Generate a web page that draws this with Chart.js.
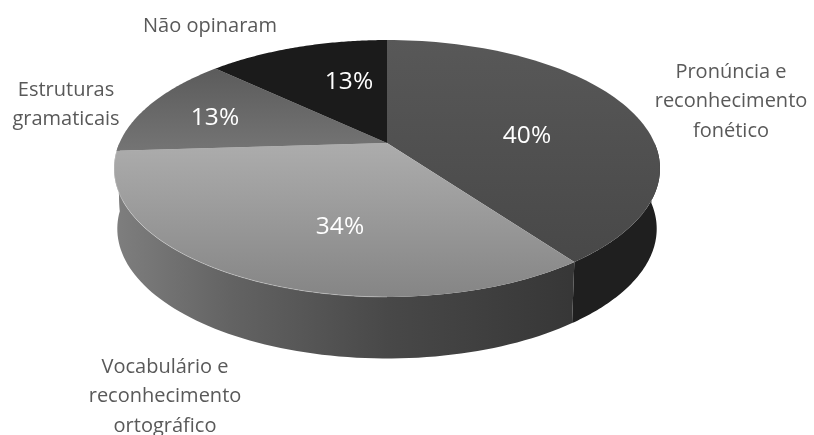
<!DOCTYPE html>
<html lang="pt">
<head>
<meta charset="utf-8">
<title>Dificuldades</title>
<script src="https://cdn.jsdelivr.net/npm/chart.js@4"></script>
<style>
  html, body { margin: 0; padding: 0; background: #fff; }
  canvas { display: block; }
</style>
</head>
<body>
<canvas id="pieChart" width="814" height="435"></canvas>
<script>
// Slices, clockwise from the top
const categories = [
  ['Pronúncia e', 'reconhecimento', 'fonético'],
  ['Vocabulário e', 'reconhecimento', 'ortográfico'],
  ['Estruturas', 'gramaticais'],
  ['Não opinaram']
];
const shares = [40, 34, 13, 13];

// Top face shading per slice [upper colour, lower colour, gradient from y, to y]
const topShades = [
  ['#585858', '#464646', 40, 290],
  ['#acacac', '#858585', 145, 297],
  ['#5c5c5c', '#767676', 70, 157],
  ['#1b1b1b', '#1b1b1b', 40, 143]
];
const sliceColors = ['#505050', '#999999', '#6a6a6a', '#1b1b1b'];

// Tilted disc: the centre sits above the middle of the ellipse because of perspective
const TILT = 0.1984;
const X_STRETCH = 1.871;
const Y_STRETCH = 0.863;
const WALL_DEPTH = 60;

function project(arc, angle, isBottom) {
  const d = 1 - TILT * Math.sin(angle);
  const rx = arc.outerRadius * X_STRETCH * (isBottom ? 0.988 : 1);
  const ry = arc.outerRadius * Y_STRETCH * (isBottom ? 1.01 : 1);
  return {
    x: arc.x + rx * Math.cos(angle) / d,
    y: arc.y + ry * Math.sin(angle) / d + (isBottom ? WALL_DEPTH : 0)
  };
}

function traceRim(ctx, arc, from, to, isBottom) {
  const steps = 80;
  for (let i = 0; i <= steps; i++) {
    const p = project(arc, from + (to - from) * i / steps, isBottom);
    ctx.lineTo(p.x, p.y);
  }
}

function wallFill(ctx, index) {
  if (index === 0) return '#1f1f1f';
  const g = ctx.createLinearGradient(117, 0, 570, 0);
  g.addColorStop(0, '#7e7e7e');
  g.addColorStop(0.25, '#636363');
  g.addColorStop(0.6, '#484848');
  g.addColorStop(1, '#373737');
  return g;
}

const disc3d = {
  id: 'disc3d',
  beforeDatasetDraw(chart) {
    const ctx = chart.ctx;
    const arcs = chart.getDatasetMeta(0).data;
    ctx.save();

    // Side wall, front half only
    arcs.forEach((arc, i) => {
      const from = Math.max(arc.startAngle, 0);
      const to = Math.min(arc.endAngle, Math.PI);
      if (from >= to) return;
      ctx.beginPath();
      traceRim(ctx, arc, from, to, false);
      traceRim(ctx, arc, to, from, true);
      ctx.closePath();
      ctx.fillStyle = wallFill(ctx, i);
      ctx.fill();
    });

    // Top faces
    arcs.forEach((arc, i) => {
      const [c1, c2, y1, y2] = topShades[i];
      const g = ctx.createLinearGradient(0, y1, 0, y2);
      g.addColorStop(0, c1);
      g.addColorStop(1, c2);
      ctx.beginPath();
      ctx.moveTo(arc.x, arc.y);
      traceRim(ctx, arc, arc.startAngle, arc.endAngle, false);
      ctx.closePath();
      ctx.fillStyle = g;
      ctx.fill();
    });

    // Thin highlight where the light slice meets its wall
    const light = arcs[1];
    ctx.beginPath();
    traceRim(ctx, light, Math.PI * 0.5, light.endAngle, false);
    ctx.strokeStyle = 'rgba(255,255,255,0.3)';
    ctx.lineWidth = 1;
    ctx.stroke();

    ctx.restore();
    return false;
  },
  afterDatasetsDraw(chart) {
    const ctx = chart.ctx;
    const percentSpots = [[527, 136], [340, 227], [215, 118], [349, 82]];
    const nameSpots = [[731, 72], [165, 367], [66, 90], [210, 26]];
    ctx.save();
    ctx.textAlign = 'center';
    ctx.textBaseline = 'middle';

    ctx.font = '24.5px "Open Sans"';
    ctx.fillStyle = '#ffffff';
    shares.forEach((v, i) => ctx.fillText(v + '%', percentSpots[i][0], percentSpots[i][1]));

    ctx.font = '20px "Open Sans"';
    ctx.fillStyle = '#595959';
    categories.forEach((lines, i) => {
      lines.forEach((line, n) => {
        ctx.fillText(line, nameSpots[i][0], nameSpots[i][1] + n * 29.5);
      });
    });
    ctx.restore();
  }
};

new Chart(document.getElementById('pieChart'), {
  type: 'pie',
  data: {
    labels: categories.map(c => c.join(' ')),
    datasets: [{
      data: shares,
      backgroundColor: sliceColors,
      borderWidth: 0
    }]
  },
  plugins: [disc3d],
  options: {
    responsive: false,
    animation: false,
    events: [],
    layout: { padding: { left: 0, right: 40, top: 0, bottom: 149 } },
    plugins: {
      legend: { display: false },
      tooltip: { enabled: false }
    }
  }
});
</script>
</body>
</html>
